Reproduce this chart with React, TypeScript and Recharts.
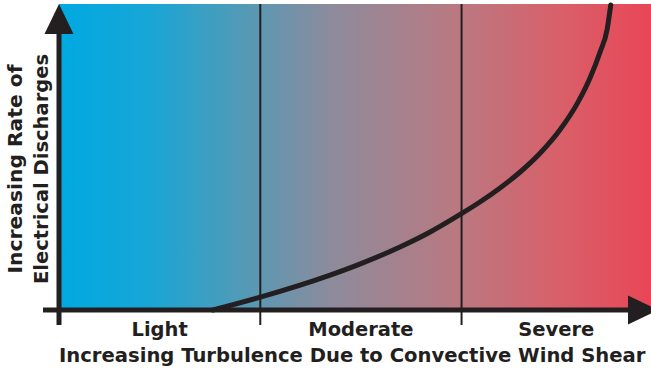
import React from 'react';
import { ComposedChart, Line, XAxis, YAxis, ReferenceArea, ReferenceLine, ReferenceDot } from 'recharts';

const categories = ['Light', 'Moderate', 'Severe'];
const categoryCenters = [17, 51, 84];
const dividers = [34, 68];
const curveX = [26.0, 34.0, 45.8, 50.8, 57.6, 62.7, 67.9, 71.1, 74.5, 77.9, 81.3, 84.6, 87.7, 89.7, 91.4, 92.6, 93.2];
const curveY = [0, 4.2, 11.4, 15.0, 20.6, 25.5, 31.4, 35.3, 39.9, 45.1, 51.3, 58.8, 68.0, 75.8, 84.3, 91.8, 99.7];
const xTitle = 'Increasing Turbulence Due to Convective Wind Shear';
const yTitle = ['Increasing Rate of', 'Electrical Discharges'];

const data = curveX.map((x, i) => ({ x, y: curveY[i] }));

const INK = '#231f20';
const FONT = '"DejaVu Sans", sans-serif';

const UpArrow = (p: any) => (
  <polygon points={`${p.cx},${p.cy} ${p.cx - 14.5},${p.cy + 30} ${p.cx + 14.5},${p.cy + 30}`} fill={INK} />
);
const RightArrow = (p: any) => (
  <polygon points={`${p.cx + 7},${p.cy} ${p.cx - 23},${p.cy - 14.5} ${p.cx - 23},${p.cy + 14.5}`} fill={INK} />
);

const YTitle = (props: any) => {
  const vb = props.viewBox || {};
  const cy = vb.y + vb.height / 2 + 12;
  return (
    <g>
      <text x={0} y={0} transform={`translate(22, ${cy}) rotate(-90)`} textAnchor="middle" fontFamily={FONT} fontWeight="bold" fontSize={20.3} fill={INK}>{yTitle[0]}</text>
      <text x={0} y={0} transform={`translate(48, ${cy}) rotate(-90)`} textAnchor="middle" fontFamily={FONT} fontWeight="bold" fontSize={19.5} fill={INK}>{yTitle[1]}</text>
    </g>
  );
};

const XTitle = () => (
  <text x={59} y={362} textAnchor="start" fontFamily={FONT} fontWeight="bold" fontSize={19.6} fill={INK}>{xTitle}</text>
);

export default function App() {
  return (
    <div style={{ position: 'absolute', left: 0, top: 0, width: 651, height: 370, background: '#fff' }}>
      <ComposedChart width={651} height={370} data={data} margin={{ top: 4, right: 0, bottom: 0, left: 1 }}>
        <defs>
          <linearGradient id="bg" x1="0" y1="0" x2="1" y2="0">
            <stop offset="0" stopColor="#00a9e2" />
            <stop offset="0.15" stopColor="#17a6d6" />
            <stop offset="0.3" stopColor="#4f9bb8" />
            <stop offset="0.46" stopColor="#8d8b9c" />
            <stop offset="0.68" stopColor="#bb7880" />
            <stop offset="0.85" stopColor="#d95f69" />
            <stop offset="1" stopColor="#e94657" />
          </linearGradient>
        </defs>
        <XAxis
          type="number"
          dataKey="x"
          domain={[0, 100]}
          ticks={categoryCenters}
          interval={0}
          tickFormatter={(v: number) => categories[categoryCenters.indexOf(v)] ?? ''}
          axisLine={false}
          tickLine={false}
          tickSize={6}
          tickMargin={6}
          height={60}
          tick={{ fill: INK, fontSize: 19.5, fontWeight: 'bold', fontFamily: FONT }}
          label={{ content: XTitle }}
        />
        <YAxis
          type="number"
          domain={[0, 100]}
          width={58}
          tick={false}
          tickLine={false}
          axisLine={false}
          label={{ content: YTitle }}
        />
        <ReferenceArea x1={0} x2={100} y1={0} y2={100} fill="url(#bg)" fillOpacity={1} stroke="none" ifOverflow="visible" />
        {dividers.map((d) => (
          <ReferenceLine key={d} segment={[{ x: d, y: -4.9 }, { x: d, y: 100 }]} stroke={INK} strokeWidth={2} ifOverflow="visible" />
        ))}
        <Line type="monotone" dataKey="y" stroke={INK} strokeWidth={5} dot={false} isAnimationActive={false} strokeLinecap="round" />
        <ReferenceLine segment={[{ x: -2.7, y: 0 }, { x: 98, y: 0 }]} stroke={INK} strokeWidth={5} ifOverflow="visible" />
        <ReferenceLine segment={[{ x: 0, y: -4.9 }, { x: 0, y: 95 }]} stroke={INK} strokeWidth={5} ifOverflow="visible" />
        <ReferenceDot x={0} y={100} r={1} shape={UpArrow} ifOverflow="visible" />
        <ReferenceDot x={100} y={0} r={1} shape={RightArrow} ifOverflow="visible" />
      </ComposedChart>
    </div>
  );
}
